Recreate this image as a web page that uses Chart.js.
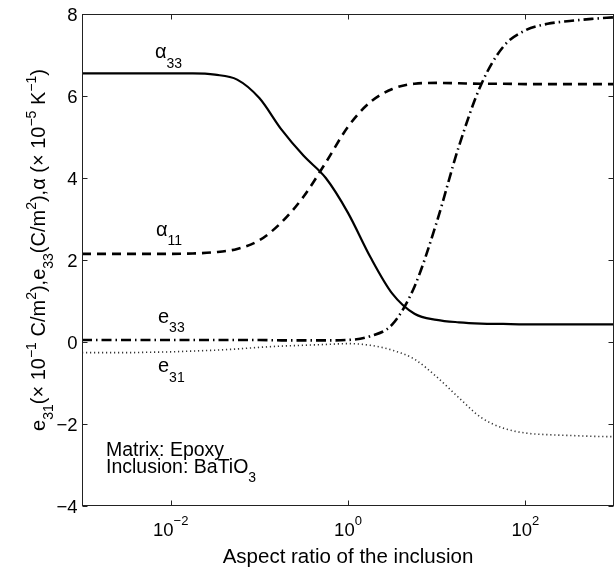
<!DOCTYPE html>
<html>
<head>
<meta charset="utf-8">
<script src="https://cdn.jsdelivr.net/npm/chart.js@4.4.0/dist/chart.umd.min.js"></script>
<style>
  html, body { margin: 0; padding: 0; background: #fff; }
  canvas { display: block; }
</style>
</head>
<body>
<canvas id="myChart" width="614" height="571"></canvas>
<script>
// aspect ratio of the inclusion (log grid, quarter decades)
var ratio = [0.001, 0.00178, 0.00316, 0.00562, 0.01, 0.0178, 0.0316, 0.0562, 0.1, 0.178, 0.316, 0.562,
             1, 1.78, 3.16, 5.62, 10, 17.8, 31.6, 56.2, 100, 178, 316, 562, 1000];

// values
var alpha33 = [6.55, 6.55, 6.55, 6.55, 6.55, 6.55, 6.52, 6.4, 5.95, 5.18, 4.54, 4.0,
               3.15, 2.08, 1.18, 0.69, 0.54, 0.48, 0.45, 0.44, 0.43, 0.43, 0.43, 0.43, 0.43];
var alpha11 = [2.15, 2.15, 2.15, 2.15, 2.15, 2.16, 2.19, 2.27, 2.48, 2.92, 3.55, 4.38,
               5.25, 5.85, 6.17, 6.3, 6.32, 6.31, 6.3, 6.3, 6.29, 6.29, 6.29, 6.29, 6.29];
var e33 = [0.05, 0.05, 0.05, 0.05, 0.05, 0.05, 0.05, 0.05, 0.05, 0.04, 0.04, 0.04,
           0.05, 0.14, 0.43, 1.35, 2.92, 4.77, 6.27, 7.2, 7.6, 7.76, 7.83, 7.88, 7.92];
var e31 = [-0.26, -0.26, -0.26, -0.25, -0.24, -0.22, -0.2, -0.17, -0.13, -0.1, -0.08, -0.06,
           -0.04, -0.08, -0.2, -0.42, -0.85, -1.36, -1.84, -2.1, -2.22, -2.26, -2.28, -2.3, -2.31];

// axis ticks
var xTicks = [0.01, 1, 100];
var xTickExp = ['\u22122', '0', '2'];
var yTicks = [-4, -2, 0, 2, 4, 6, 8];

var FONT = '"Liberation Sans", Arial, Helvetica, sans-serif';

function pts(ys) {
    return ratio.map(function (r, i) { return { x: r, y: ys[i] }; });
}

// draw a run of text pieces: [text, size, baseline shift]
function rich(ctx, parts, x, y, align) {
    var w = 0;
    parts.forEach(function (p) {
        ctx.font = p[1] + 'px ' + FONT;
        w += ctx.measureText(p[0]).width;
    });
    var cx = align === 'center' ? x - w / 2 : (align === 'right' ? x - w : x);
    ctx.textAlign = 'left';
    ctx.textBaseline = 'alphabetic';
    parts.forEach(function (p) {
        ctx.font = p[1] + 'px ' + FONT;
        ctx.fillText(p[0], cx, y + (p[2] || 0));
        cx += ctx.measureText(p[0]).width;
    });
}

var frame = {
    id: 'frame',
    beforeDraw: function (chart) {
        var ctx = chart.ctx;
        ctx.save();
        ctx.fillStyle = '#fff';
        ctx.fillRect(0, 0, chart.width, chart.height);
        ctx.restore();
    },
    afterDraw: function (chart) {
        var ctx = chart.ctx, a = chart.chartArea;
        var xs = chart.scales.x, ys = chart.scales.y;
        var L = Math.round(a.left) + 0.5, R = Math.round(a.right) - 0.5;
        var T = Math.round(a.top) + 0.5, B = Math.round(a.bottom) - 0.5;
        ctx.save();
        ctx.strokeStyle = '#222';
        ctx.lineWidth = 1;
        ctx.strokeRect(L, T, R - L, B - T);

        ctx.beginPath();
        yTicks.forEach(function (v) {
            var y = Math.round(ys.getPixelForValue(v)) + 0.5;
            ctx.moveTo(L, y); ctx.lineTo(L + 5, y);
            ctx.moveTo(R, y); ctx.lineTo(R - 5, y);
        });
        xTicks.forEach(function (v) {
            var x = Math.round(xs.getPixelForValue(v)) + 0.5;
            ctx.moveTo(x, B); ctx.lineTo(x, B - 5);
            ctx.moveTo(x, T); ctx.lineTo(x, T + 5);
        });
        ctx.stroke();

        ctx.fillStyle = '#000';
        yTicks.forEach(function (v) {
            var y = ys.getPixelForValue(v);
            var s = v < 0 ? '\u2212' + Math.abs(v) : String(v);
            rich(ctx, [[s, 18.5]], L - 5, y + 6.5, 'right');
        });
        xTicks.forEach(function (v, i) {
            var x = xs.getPixelForValue(v);
            rich(ctx, [['10', 18.5], [xTickExp[i], 13, -11]], x, B + 30, 'center');
        });

        // axis titles
        rich(ctx, [['Aspect ratio of the inclusion', 20.5]], (a.left + a.right) / 2, 563, 'center');
        ctx.save();
        ctx.translate(45, 250);
        ctx.rotate(-Math.PI / 2);
        rich(ctx, [
            ['e', 20], ['31', 14, 8], ['(\u00d7 10', 20], ['\u22121', 14, -9], [' C/m', 20], ['2', 14, -9],
            ['),e', 20], ['33', 14, 8], ['(C/m', 20], ['2', 14, -9],
            ['),\u03b1 (\u00d7 10', 20], ['\u22125', 14, -9], [' K', 20], ['\u22121', 14, -9], [')', 20]
        ], 0, 0, 'center');
        ctx.restore();

        // curve labels
        rich(ctx, [['\u03b1', 20], ['33', 14, 10]], 155, 58, 'left');
        rich(ctx, [['\u03b1', 20], ['11', 14, 9]], 156, 236, 'left');
        rich(ctx, [['e', 20], ['33', 14, 9]], 158, 323, 'left');
        rich(ctx, [['e', 20], ['31', 14, 10]], 158, 372, 'left');

        rich(ctx, [['Matrix: Epoxy', 19.5]], 106, 456, 'left');
        rich(ctx, [['Inclusion: BaTiO', 19.5], ['3', 14, 9]], 106, 473, 'left');
        ctx.restore();
    }
};

var ctx = document.getElementById('myChart').getContext('2d');
var chart = new Chart(ctx, {
    type: 'line',
    data: {
        datasets: [{
            label: 'alpha33',
            data: pts(alpha33),
            borderColor: '#000',
            borderWidth: 2.2,
            cubicInterpolationMode: 'monotone'
        }, {
            label: 'alpha11',
            data: pts(alpha11),
            borderColor: '#000',
            borderWidth: 2.6,
            borderDash: [9, 6],
            cubicInterpolationMode: 'monotone'
        }, {
            label: 'e33',
            data: pts(e33),
            borderColor: '#000',
            borderWidth: 2.6,
            borderDash: [10, 4, 1.5, 4],
            cubicInterpolationMode: 'monotone'
        }, {
            label: 'e31',
            data: pts(e31),
            borderColor: '#333',
            borderWidth: 1.6,
            borderDash: [1.2, 2.8],
            cubicInterpolationMode: 'monotone'
        }]
    },
    options: {
        responsive: false,
        animation: false,
        devicePixelRatio: 1,
        elements: { point: { radius: 0 } },
        layout: { padding: { left: 82, top: 14, right: 0, bottom: 65 } },
        plugins: { legend: { display: false }, tooltip: { enabled: false } },
        scales: {
            x: { type: 'logarithmic', min: 0.001, max: 1000, display: false },
            y: { type: 'linear', min: -4, max: 8, display: false }
        }
    },
    plugins: [frame]
});
</script>
</body>
</html>
